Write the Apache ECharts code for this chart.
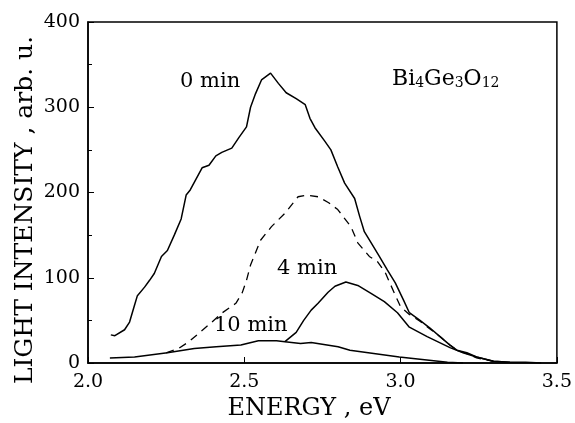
<!DOCTYPE html>
<html><head><meta charset="utf-8">
<script src="https://cdn.jsdelivr.net/npm/echarts@6/dist/echarts.min.js"></script>
<style>html,body{margin:0;padding:0;background:#fff}#c{width:575px;height:423px}</style>
</head><body><div id="c"></div>
<script>
// ---- data ----
var e0 = [2.073,2.086,2.117,2.133,2.149,2.158,2.181,2.197,2.212,2.235,2.254,2.276,2.298,2.314,2.327,2.346,2.365,2.387,2.409,2.428,2.460,2.482,2.507,2.520,2.536,2.555,2.584,2.609,2.634,2.666,2.695,2.710,2.726,2.758,2.777,2.799,2.821,2.853,2.869,2.884,2.904,2.932,2.958,2.983,3.009,3.028,3.062,3.094,3.126,3.158,3.180,3.212,3.243,3.297,3.348,3.40,3.45];
var i0 = [33,32,39,48,68,79,89,97,105,125,132,150,169,197,203,216,229,232,243,247,252,264,277,300,316,332,340,328,317,310,303,287,276,260,250,230,211,193,172,154,142,125,109,94,74,59,50,41,31,21,15,12,7,2,1,1,0];
var eD = [2.25,2.29,2.323,2.355,2.387,2.43,2.473,2.493,2.507,2.52,2.53,2.552,2.587,2.631,2.672,2.70,2.736,2.77,2.799,2.841,2.863,2.90,2.926,2.951,2.98,3.0,3.028,3.062,3.094,3.126,3.158,3.18,3.212,3.243,3.297];
var iD = [12,17,25,35,45,59,70,82,97,115,124,144,160,176,195,197,195,188,180,160,141,125,119,106,82,66,57,49,40,31,21,15,11,6,2];
var e4 = [2.63,2.666,2.69,2.714,2.736,2.768,2.79,2.825,2.863,2.904,2.948,2.99,3.028,3.085,3.158,3.20,3.243,3.297,3.35];
var i4 = [25,36,50,62,70,83,90,95,91,82,72,59,42,31,18,12,7,2,1];
var e10 = [2.07,2.149,2.254,2.34,2.41,2.489,2.545,2.603,2.63,2.68,2.714,2.8,2.838,2.996,3.15,3.2];
var i10 = [6,7,12,17,19,21,26,26,25,23,24,19,15,7,1,0];
var xTicks = [2.0,2.5,3.0,3.5];
var yTicks = [0,100,200,300,400];

function pairs(e,v){return e.map(function(x,k){return [x,v[k]];});}
var F = 'DejaVu Serif';
var chart = echarts.init(document.getElementById('c'));
var line = {type:'line', showSymbol:false, symbol:'none', smooth:false, animation:false};
chart.setOption({
  animation:false,
  grid:{left:88,right:14,top:22,bottom:60,show:true,borderColor:'#000',borderWidth:1.5},
  xAxis:{type:'value',min:xTicks[0],max:xTicks[xTicks.length-1],interval:0.5,
    axisLine:{lineStyle:{color:'#000',width:1.5}},
    axisTick:{inside:true,length:6,lineStyle:{color:'#000'}},
    splitLine:{show:false},
    axisLabel:{color:'#000',fontFamily:F,fontSize:19,margin:10,formatter:function(v){return v.toFixed(1);}}},
  yAxis:{type:'value',min:yTicks[0],max:yTicks[yTicks.length-1],interval:100,
    axisLine:{show:true,lineStyle:{color:'#000',width:1.5}},
    axisTick:{inside:true,length:6,lineStyle:{color:'#000'}},
    minorTick:{show:true,splitNumber:2,length:4,lineStyle:{color:'#000'}},
    splitLine:{show:false},
    axisLabel:{color:'#000',fontFamily:F,fontSize:19,margin:8}},
  series:[
    Object.assign({},line,{data:pairs(e0,i0),lineStyle:{color:'#000',width:1.5}}),
    Object.assign({},line,{data:pairs(eD,iD),lineStyle:{color:'#000',width:1.3,type:[8,6]}}),
    Object.assign({},line,{data:pairs(e4,i4),lineStyle:{color:'#000',width:1.5}}),
    Object.assign({},line,{data:pairs(e10,i10),lineStyle:{color:'#000',width:1.5}})
  ],
  graphic:[
    {type:'text',left:180,top:71,style:{text:'0 min',font:'21px "DejaVu Serif"',fill:'#000'}},
    {type:'text',left:277,top:258,style:{text:'4 min',font:'21px "DejaVu Serif"',fill:'#000'}},
    {type:'text',left:214,top:315,style:{text:'10 min',font:'21px "DejaVu Serif"',fill:'#000'}},
    {type:'text',left:392,top:68,style:{text:'{b|Bi}{s|4}{b|Ge}{s|3}{b|O}{s|12}',
      rich:{b:{fontFamily:F,fontSize:22,fill:'#000',color:'#000',verticalAlign:'bottom',lineHeight:26},
            s:{fontFamily:F,fontSize:14,fill:'#000',color:'#000',verticalAlign:'bottom',lineHeight:22}}}},
    {type:'text',x:309,y:409,style:{text:'ENERGY , eV',font:'24px "DejaVu Serif"',fill:'#000',textAlign:'center',textVerticalAlign:'middle'}},
    {type:'text',x:25,y:210,rotation:Math.PI/2,style:{text:'LIGHT INTENSITY , arb. u.',font:'25px "DejaVu Serif"',fill:'#000',textAlign:'center',textVerticalAlign:'middle'}}
  ]
});
</script></body></html>
